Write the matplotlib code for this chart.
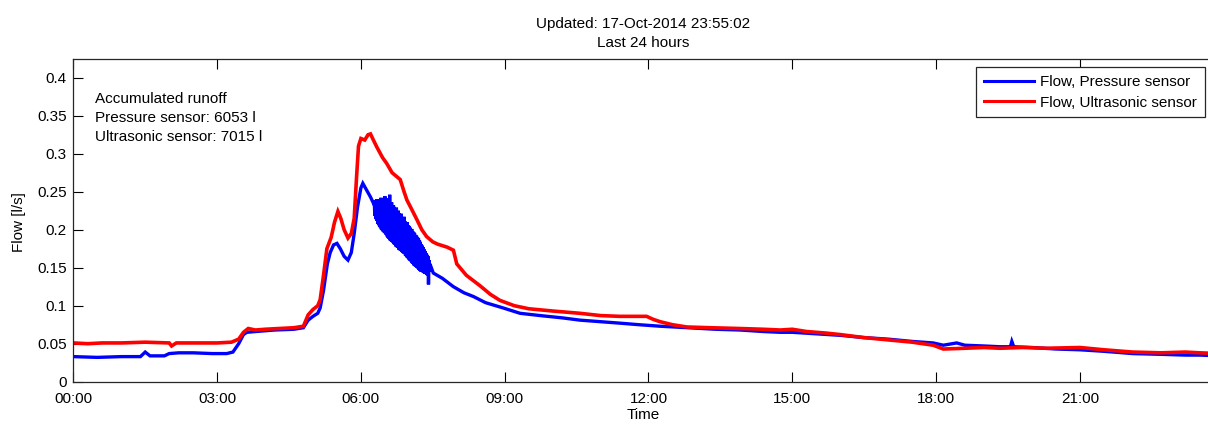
import matplotlib
matplotlib.use("Agg")
import matplotlib.pyplot as plt
import numpy as np

# ---- data: hours since midnight, flow in l/s ----
pressure_rise_t = [
    0.00, 0.50, 1.00, 1.40, 1.50, 1.60, 1.90, 2.00, 2.20, 2.50, 2.90, 3.20, 3.33,
    3.45, 3.55, 3.62, 3.80, 4.20, 4.60, 4.80, 4.90, 5.00, 5.10, 5.15, 5.22, 5.30,
    5.36, 5.43, 5.50, 5.57, 5.65, 5.73, 5.80, 5.86, 5.93, 6.00, 6.04, 6.12, 6.20,
    6.26,
]
pressure_rise_flow = [
    0.033, 0.032, 0.033, 0.033, 0.039, 0.034, 0.034, 0.037, 0.038, 0.038, 0.037, 0.037, 0.039,
    0.050, 0.062, 0.065, 0.066, 0.068, 0.069, 0.071, 0.081, 0.086, 0.090, 0.097, 0.120, 0.155,
    0.170, 0.180, 0.182, 0.175, 0.165, 0.160, 0.170, 0.195, 0.230, 0.255, 0.261, 0.252, 0.243,
    0.235,
]
# oscillating stretch of the pressure sensor, sampled every 0.01 h from 6.28 h
pressure_osc_start = 6.28
pressure_osc_step = 0.01
pressure_osc_flow = [
    0.236, 0.218, 0.238, 0.214, 0.235, 0.212, 0.240, 0.208, 0.237, 0.206,
    0.239, 0.204, 0.236, 0.202, 0.242, 0.200, 0.238, 0.199, 0.240, 0.197,
    0.235, 0.196, 0.244, 0.195, 0.233, 0.193, 0.238, 0.191, 0.236, 0.189,
    0.241, 0.188, 0.246, 0.186, 0.231, 0.185, 0.236, 0.184, 0.229, 0.183,
    0.232, 0.181, 0.228, 0.180, 0.226, 0.178, 0.229, 0.177, 0.224, 0.176,
    0.225, 0.174, 0.222, 0.173, 0.219, 0.172, 0.221, 0.171, 0.216, 0.170,
    0.214, 0.169, 0.217, 0.168, 0.211, 0.166, 0.209, 0.165, 0.210, 0.163,
    0.206, 0.162, 0.205, 0.160, 0.203, 0.159, 0.200, 0.158, 0.201, 0.156,
    0.198, 0.155, 0.197, 0.153, 0.195, 0.152, 0.193, 0.151, 0.192, 0.150,
    0.190, 0.149, 0.189, 0.147, 0.186, 0.146, 0.184, 0.145, 0.181, 0.145,
    0.179, 0.144, 0.177, 0.143, 0.174, 0.142, 0.172, 0.142, 0.169, 0.141,
    0.167, 0.140, 0.165, 0.128, 0.160, 0.145, 0.155,
]
pressure_fall_t = [
    7.47, 7.51, 7.70, 7.93, 8.15, 8.35, 8.60, 8.97, 9.32, 9.74, 10.20, 10.57,
    11.00, 11.41, 11.80, 12.24, 12.80, 13.40, 13.91, 14.40, 14.75, 15.00, 15.50,
    16.00, 16.50, 17.00, 17.50, 17.94, 18.15, 18.43, 18.60, 19.00, 19.33, 19.55,
    19.58, 19.62, 20.00, 20.50, 21.00, 21.50, 22.10, 22.70, 23.20, 23.50, 23.92,
]
pressure_fall_flow = [
    0.150, 0.143, 0.136, 0.125, 0.117, 0.112, 0.104, 0.097, 0.090, 0.087, 0.084, 0.081,
    0.079, 0.077, 0.075, 0.073, 0.071, 0.069, 0.068, 0.066, 0.065, 0.065, 0.063,
    0.061, 0.058, 0.056, 0.053, 0.051, 0.048, 0.051, 0.048, 0.047, 0.046, 0.046,
    0.053, 0.046, 0.045, 0.043, 0.042, 0.040, 0.037, 0.036, 0.035, 0.035, 0.034,
]

ultrasonic_t = [
    0.00, 0.30, 0.60, 1.00, 1.50, 2.00, 2.05, 2.15, 2.50, 3.00, 3.30, 3.45, 3.55,
    3.65, 3.80, 4.00, 4.30, 4.60, 4.80, 4.90, 5.00, 5.10, 5.15, 5.22, 5.29, 5.38,
    5.45, 5.52, 5.58, 5.65, 5.73, 5.80, 5.86, 5.91, 5.95, 6.00, 6.08, 6.15, 6.20,
    6.26, 6.33, 6.45, 6.54, 6.65, 6.82, 6.90, 6.96, 7.05, 7.17, 7.27, 7.37, 7.50,
    7.60, 7.80, 7.93, 8.00, 8.20, 8.49, 8.70, 8.90, 9.20, 9.50, 10.00, 10.57,
    11.00, 11.40, 11.96, 12.10, 12.24, 12.50, 12.80, 13.30, 13.90, 14.40, 14.75,
    15.00, 15.30, 15.70, 16.00, 16.50, 17.00, 17.50, 17.94, 18.15, 18.60, 19.00,
    19.33, 19.80, 20.30, 21.00, 21.50, 22.10, 22.70, 23.20, 23.50, 23.92,
]
ultrasonic_flow = [
    0.051, 0.050, 0.051, 0.051, 0.052, 0.051, 0.047, 0.051, 0.051, 0.051, 0.052, 0.056, 0.065,
    0.070, 0.068, 0.069, 0.070, 0.071, 0.073, 0.088, 0.095, 0.100, 0.108, 0.140, 0.175, 0.190,
    0.210, 0.224, 0.215, 0.200, 0.189, 0.195, 0.215, 0.270, 0.310, 0.320, 0.318, 0.325, 0.326,
    0.318, 0.309, 0.295, 0.287, 0.275, 0.266, 0.250, 0.239, 0.228, 0.213, 0.200, 0.191, 0.184,
    0.181, 0.177, 0.173, 0.155, 0.140, 0.126, 0.115, 0.107, 0.100, 0.096, 0.093, 0.090,
    0.087, 0.086, 0.086, 0.082, 0.079, 0.075, 0.072, 0.071, 0.070, 0.069, 0.068,
    0.069, 0.066, 0.064, 0.062, 0.058, 0.055, 0.052, 0.048, 0.043, 0.044, 0.045,
    0.044, 0.045, 0.044, 0.045, 0.042, 0.039, 0.038, 0.039, 0.038, 0.037,
]

xtick_hours = [0, 3, 6, 9, 12, 15, 18, 21]
xtick_labels = ["00:00", "03:00", "06:00", "09:00", "12:00", "15:00", "18:00", "21:00"]
ytick_values = [0, 0.05, 0.1, 0.15, 0.2, 0.25, 0.3, 0.35, 0.4]
ytick_labels = ["0", "0.05", "0.1", "0.15", "0.2", "0.25", "0.3", "0.35", "0.4"]

series_names = ["Flow, Pressure sensor", "Flow, Ultrasonic sensor"]
runoff_pressure = 6053
runoff_ultrasonic = 7015
updated = "17-Oct-2014 23:55:02"

# assemble the pressure-sensor record
osc_t = np.round(pressure_osc_start
                 + pressure_osc_step * np.arange(len(pressure_osc_flow)), 3)
pressure_t = np.concatenate([pressure_rise_t, osc_t, pressure_fall_t])
pressure_flow = np.concatenate([pressure_rise_flow, pressure_osc_flow,
                                pressure_fall_flow])

# ---- figure ----
W, H = 1208, 424
plt.rcParams["font.family"] = ["Liberation Sans", "DejaVu Sans"]
plt.rcParams["font.size"] = 11

fig = plt.figure(figsize=(W / 100, H / 100), dpi=100)
fig.patch.set_facecolor("white")


def fx(x):
    return x / W


def fy(y):
    return 1 - y / H


ax_left, ax_right, ax_top, ax_bottom = 72.5, 1219.7, 59.0, 381.7
ax = fig.add_axes([fx(ax_left), fy(ax_bottom),
                   (ax_right - ax_left) / W, (ax_bottom - ax_top) / H])

ax.plot(pressure_t, pressure_flow, color=(0, 0, 1), lw=2.4,
        solid_joinstyle="miter", label=series_names[0])
ax.plot(ultrasonic_t, ultrasonic_flow, color=(1, 0, 0), lw=2.6,
        solid_joinstyle="miter", label=series_names[1])

ax.set_xlim(-0.017, 23.917)
ax.set_ylim(0, 0.4246)
ax.set_xticks(xtick_hours)
ax.set_xticklabels(xtick_labels)
ax.set_yticks(ytick_values)
ax.set_yticklabels(ytick_labels)
ax.tick_params(direction="in", length=7.5, width=0.8, top=True, right=True,
               labelsize=11, colors="black")
ax.tick_params(axis="x", pad=7.5)
ax.tick_params(axis="y", pad=4)
for s in ax.spines.values():
    s.set_linewidth(0.9)
    s.set_color("#262626")

leg = ax.legend(loc="upper right", bbox_to_anchor=(fx(1205), fy(67.3)),
                bbox_transform=fig.transFigure, borderaxespad=0,
                fontsize=11, handlelength=3.3, handletextpad=0.4,
                labelspacing=0.45, borderpad=0.5, fancybox=False,
                framealpha=1, edgecolor="#262626")
leg.get_frame().set_linewidth(0.9)
for h in leg.get_lines():
    h.set_linewidth(2.2)

# accumulated runoff note
note_lines = ["Accumulated runoff",
              f"Pressure sensor: {runoff_pressure} l",
              f"Ultrasonic sensor: {runoff_ultrasonic} l"]
for i, line in enumerate(note_lines):
    fig.text(fx(95), fy(103.3 + 19 * i), line, ha="left", va="baseline",
             fontsize=11)

# titles and axis labels
fig.text(fx(643), fy(28.3), f"Updated: {updated}", ha="center",
         va="baseline", fontsize=11)
fig.text(fx(643), fy(46.7), "Last 24 hours", ha="center", va="baseline",
         fontsize=11)
fig.text(fx(18.8), fy(222), "Flow [l/s]", rotation=90, ha="center",
         va="center", fontsize=11)
fig.text(fx(643), fy(415), "Time", ha="center", va="center", fontsize=11)

fig.savefig("out.png", dpi=100, facecolor="white")
